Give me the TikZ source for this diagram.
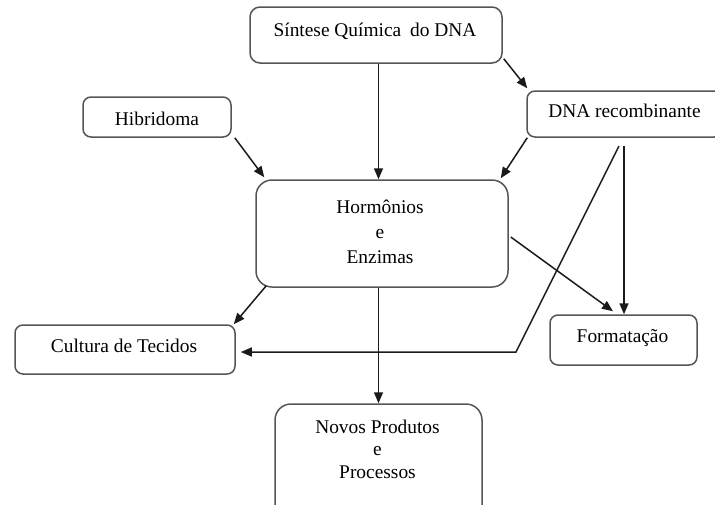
\documentclass[tikz,border=0pt]{standalone}
\usepackage{fontspec}
\setmainfont{Liberation Serif}
\usetikzlibrary{arrows.meta}
\definecolor{boxgray}{HTML}{555555}
\definecolor{linegray}{HTML}{1A1A1A}
\begin{document}
\begin{tikzpicture}[x=1pt,y=-1pt,
  box/.style={draw=boxgray, line width=1.5pt, rounded corners=8pt, inner sep=0pt},
  lbl/.style={font=\fontsize{19.4}{25}\selectfont, align=center, inner sep=0pt, anchor=base},
  arr/.style={draw=linegray, line width=1.5pt, -{Triangle[length=11pt,width=9pt]}}]
\useasboundingbox (0,0) rectangle (715,504);
\clip (0,0) rectangle (715,504);

% boxes
\node[box, minimum width=252pt, minimum height=56pt, rounded corners=10pt] (sint) at (376,35) {};
\node[box, minimum width=195pt, minimum height=46pt] (dna) at (624.5,114) {};
\node[box, minimum width=148pt, minimum height=40pt] (hib) at (157,117) {};
\node[box, minimum width=252pt, minimum height=107pt, rounded corners=16pt] (horm) at (382,233.5) {};
\node[box, minimum width=220pt, minimum height=49pt] (cult) at (125,349.5) {};
\node[box, minimum width=147pt, minimum height=50pt] (form) at (623.5,340) {};
\node[box, minimum width=207pt, minimum height=120pt, rounded corners=16pt] (novos) at (378.5,464) {};

% labels (multi-line labels sit on the baseline of their last line)
\node[lbl] (sintT) at (375,36) {Síntese Química\hspace{4pt} do DNA};
\node[lbl] (dnaT) at (624.5,117) {DNA recombinante};
\node[lbl] (hibT) at (157,125) {Hibridoma};
\node[lbl] (hormT) at (380,263) {Hormônios\\e\\Enzimas};
\node[lbl] (cultT) at (124,352) {Cultura de Tecidos};
\node[lbl] (formT) at (622.5,342) {Formatação};
\node[lbl, font=\fontsize{19.4}{22.5}\selectfont] (novosT) at (377.5,478) {Novos Produtos\\e\\Processos};

% connector waypoints
\coordinate (v0) at (624,146);
\coordinate (d0) at (619,146);
\coordinate (d1) at (516,352);

% connectors
\draw[arr] (sint.south -| novos.north) -- (horm.north -| novos.north);
\draw[arr] ([xshift=1pt,yshift=5pt]sint.south east) -- ([xshift=1pt,yshift=2pt]dna.north west);
\draw[arr] ([xshift=3pt]hib.south east) -- ([xshift=9pt,yshift=2pt]horm.north west);
\draw[arr] ([xshift=1pt]dna.south west) -- ([xshift=-8pt,yshift=1pt]horm.north east);
\draw[arr] (v0) -- (v0 |- form.north);
\draw[arr] (d0) -- (d1) -- ([xshift=5pt]cult.east |- d1);
\draw[arr] ([xshift=2pt,yshift=-3.5pt]horm.east) -- ([xshift=-10.5pt,yshift=3pt]form.north);
\draw[arr] ([xshift=11pt,yshift=2pt]horm.south west) -- ([xshift=-2pt]cult.north east);
\draw[arr] (novos.north |- horm.south) -- (novos.north);
\end{tikzpicture}
\end{document}
